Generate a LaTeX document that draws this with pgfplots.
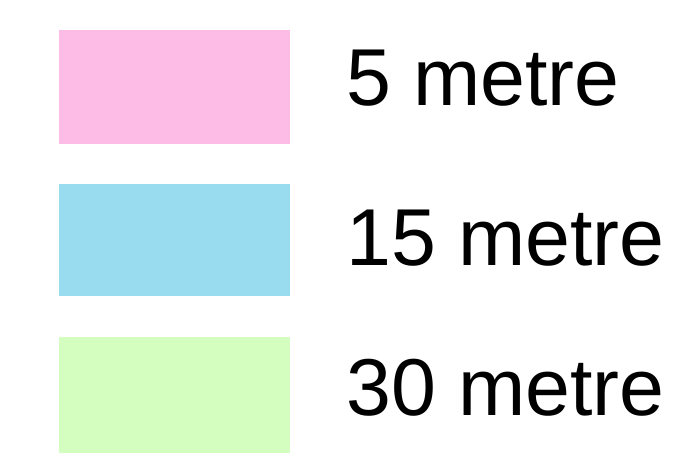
\documentclass[border=0pt]{standalone}
\usepackage{pgfplots}
\pgfplotsset{compat=1.18}
\usepackage{fontspec}
\setmainfont{Liberation Sans}

\definecolor{pinkc}{RGB}{252,188,230}
\definecolor{bluec}{RGB}{153,220,240}
\definecolor{greenc}{RGB}{212,254,192}

\tikzset{lbl/.style={font=\fontsize{81}{97}\selectfont, anchor=base west, inner sep=0pt}}

\begin{document}
\begin{tikzpicture}
\begin{axis}[
  scale only axis,
  width=676bp, height=467bp,
  xmin=0, xmax=676, ymin=0, ymax=467,
  y dir=reverse,
  hide axis,
  clip=false,
]
% legend swatches
\addplot[fill=pinkc, draw=none] coordinates {(59,30) (290,30) (290,144) (59,144)} -- cycle;
\addplot[fill=bluec, draw=none] coordinates {(59,184) (290,184) (290,296) (59,296)} -- cycle;
\addplot[fill=greenc, draw=none] coordinates {(59,337) (290,337) (290,453) (59,453)} -- cycle;

\node[lbl] at (axis cs:346,105) {5 metre};
\node[lbl] at (axis cs:346,265) {15 metre};
\node[lbl] at (axis cs:346,415) {30 metre};
\end{axis}
\path[use as bounding box] (current axis.south west) rectangle (current axis.north east);
\end{tikzpicture}
\end{document}
